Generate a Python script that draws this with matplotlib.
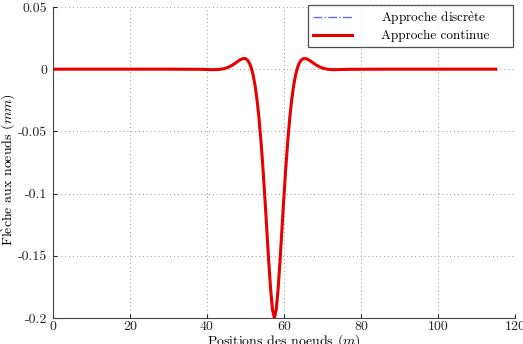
import matplotlib
matplotlib.use("Agg")
import matplotlib.pyplot as plt

plt.rcParams['font.family'] = ['cmr10', 'Liberation Serif']
plt.rcParams['mathtext.fontset'] = 'cm'
plt.rcParams['axes.unicode_minus'] = False
plt.rcParams['axes.formatter.use_mathtext'] = True

x_pos = [0, 30, 38, 39.5, 40.5, 41.5, 42.5, 43.5, 44.5, 45.5, 46.5, 47.5, 48, 48.5, 49, 49.5,
         50, 50.5, 51, 51.5, 52, 52.5, 53, 53.5, 54, 54.5, 55, 55.5, 56, 56.5, 57, 57.5,
         58, 58.5, 59, 59.5, 60, 60.5, 61, 61.5, 62, 62.5, 63, 63.5, 64, 64.5, 65, 65.5,
         66, 66.5, 67, 67.5, 68.5, 69.5, 70.5, 71.5, 72.5, 73.5, 74.5, 75.5, 77, 85, 115]
deflection = [0, 0, -0.0001, -0.0002, -0.0003, -0.00037, -0.00034, -0.0001, 0.00046, 0.0015,
              0.00309, 0.00517, 0.00625, 0.00732, 0.00816, 0.00862, 0.00845, 0.00738, 0.0051,
              0.00112, -0.0049, -0.0133, -0.0247, -0.0392, -0.0570, -0.0780, -0.1017, -0.1271,
              -0.1526, -0.1757, -0.1930, -0.2, -0.1930, -0.1757, -0.1526, -0.1271, -0.1017,
              -0.0780, -0.0570, -0.0392, -0.0247, -0.0133, -0.0049, 0.00112, 0.0051, 0.00738,
              0.00845, 0.00862, 0.00816, 0.00732, 0.00625, 0.00517, 0.00309, 0.0015, 0.00046,
              -0.0001, -0.00034, -0.00037, -0.0003, -0.0002, -0.0001, 0, 0]
x_ticks = [0, 20, 40, 60, 80, 100, 120]
y_ticks = [-0.2, -0.15, -0.1, -0.05, 0, 0.05]
y_tick_labels = ['-0.2', '-0.15', '-0.1', '-0.05', '0', '0.05']

fig = plt.figure(figsize=(5.23, 3.44), dpi=100)
ax = fig.add_axes([0.1013, 0.0756, 0.8834, 0.9041])

ax.plot(x_pos, deflection, color='#6b6bff', linestyle='-.', linewidth=1.0,
        label='Approche discr$\\mathrm{\\grave{e}}$te')
ax.plot(x_pos, deflection, color='#e60000', linestyle='-', linewidth=2.2,
        label='Approche continue')

ax.set_xlim(0, 120)
ax.set_ylim(-0.2, 0.05)
ax.set_xticks(x_ticks)
ax.set_xticklabels([str(t) for t in x_ticks])
ax.set_yticks(y_ticks)
ax.set_yticklabels(y_tick_labels)
ax.tick_params(direction='in', length=3, labelsize=10, colors='#222222')
ax.tick_params(axis='x', pad=2)
ax.tick_params(axis='y', pad=4)
ax.grid(True, linestyle=(0, (1, 3)), color='#999999', linewidth=0.7)
for s in ['top', 'right']:
    ax.spines[s].set_visible(False)
for s in ['left', 'bottom']:
    ax.spines[s].set_color('#444444')
    ax.spines[s].set_linewidth(0.8)

ax.set_xlabel('Positions des noeuds ($m$)', fontsize=10)
ax.xaxis.label.set_va('center')
ax.xaxis.set_label_coords(0.5, -0.073)
ax.set_ylabel('Fl$\\mathrm{\\grave{e}}$che aux noeuds ($mm$)', fontsize=10)
ax.yaxis.label.set_va('center')
ax.yaxis.set_label_coords(-0.097, 0.476)

leg = ax.legend(loc='upper right', fontsize=9.5, frameon=True, fancybox=False,
                edgecolor='#222222', borderpad=0.35, labelspacing=0.25, handlelength=3.0,
                handletextpad=2.2, borderaxespad=0,
                bbox_to_anchor=(0.552, 0.88, 0.4437, 0.1264), mode='expand')
leg.get_frame().set_linewidth(0.9)

fig.savefig('out.png', dpi=100)
